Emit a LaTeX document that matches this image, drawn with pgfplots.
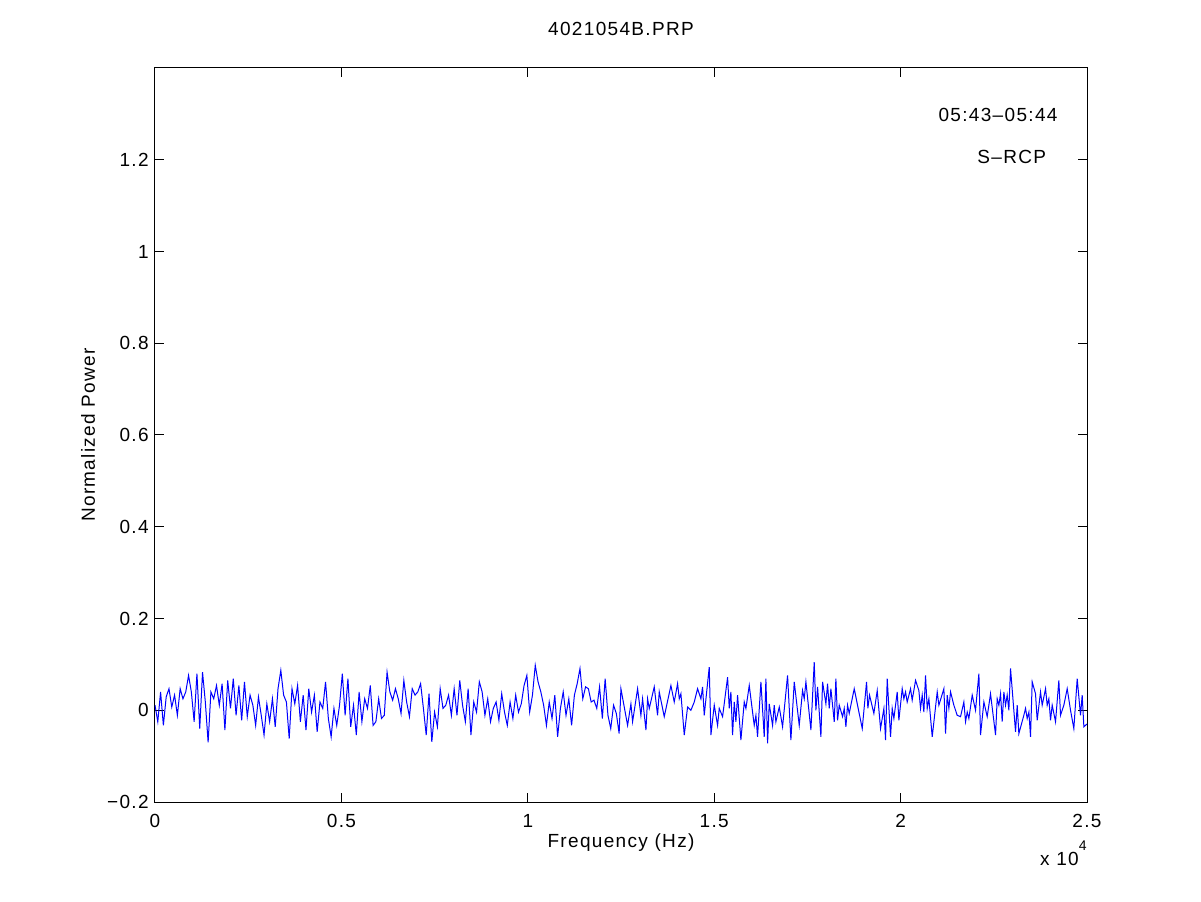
\documentclass[border=0pt]{standalone}
\usepackage{fontspec}
\setmainfont{Liberation Sans}[LetterSpace=7]
\usepackage{pgfplots}
\pgfplotsset{compat=1.18}
\usetikzlibrary{calc}
\newcommand{\mf}{\fontsize{9.5}{11}\selectfont}
\begin{document}
\mf
\begin{tikzpicture}
\begin{axis}[name=ax, scale only axis, width=466pt, height=367pt,
  xmin=0, xmax=25000, ymin=-0.2, ymax=1.4,
  scaled x ticks=false,
  xtick={0,5000,10000,15000,20000,25000},
  xticklabels={0,0.5,1,1.5,2,2.5},
  ytick={-0.2,0,0.2,0.4,0.6,0.8,1,1.2},
  yticklabels={−0.2,0,0.2,0.4,0.6,0.8,1,1.2},
  tick align=inside, tick pos=both, major tick length=4.5pt,
  axis line style={line width=0.5pt, black},
  every tick/.style={black, line width=0.5pt},
  tick label style={font=\mf},
  xticklabel style={anchor=base, inner sep=0pt, yshift=-12.5pt},
  yticklabel style={anchor=east, inner sep=0pt, xshift=-3pt},
  title={4021054B.PRP},
  title style={font=\mf, at={(axis description cs:0.5,1.02725)}, anchor=base, inner sep=0pt},
  xlabel={Frequency (Hz)},
  xlabel style={font=\mf, at={(axis description cs:0.5,-0.06267)}, anchor=base, inner sep=0pt},
  ylabel={Normalized Power},
  ylabel style={font=\mf, at={(axis description cs:-0.0644,0.5)}, anchor=base, inner sep=0pt, rotate=0},
  clip=true,
]
\addplot[blue, line width=0.5pt, mark=none] coordinates {
(0,.011)(75,-.025)(150,.040)(225,-.033)(300,.029)(375,.047)(450,.007)(525,.033)(600,-.011)(675,.047)
(750,.025)(825,.040)(900,.076)(975,.040)(1050,-.025)(1125,.080)(1200,-.040)(1275,.083)(1350,.018)(1425,-.070)
(1500,.040)(1575,.025)(1650,.054)(1725,.011)(1800,.058)(1875,-.043)(1950,.065)(2025,.004)(2100,.069)(2175,-.011)
(2250,.054)(2325,-.022)(2400,.062)(2475,-.014)(2550,.033)(2625,.011)(2700,-.033)(2775,.029)(2850,-.011)(2925,-.054)
(3000,.014)(3075,-.025)(3150,.025)(3225,-.036)(3300,.047)(3375,.087)(3450,.033)(3525,.018)(3600,-.062)(3675,.047)
(3750,.014)(3825,.054)(3900,-.025)(3975,.033)(4050,-.043)(4125,.047)(4200,-.004)(4275,.033)(4350,-.047)(4425,.018)
(4500,.004)(4575,.062)(4650,-.018)(4725,-.058)(4800,.004)(4875,-.033)(4950,.011)(5025,.080)(5100,-.011)(5175,.069)
(5250,-.036)(5325,.011)(5400,-.054)(5475,.040)(5550,-.025)(5625,.025)(5700,.004)(5775,.054)(5850,-.033)(5925,-.025)
(6000,.025)(6075,-.018)(6150,-.011)(6225,.083)
(6300,.040)(6375,.022)(6450,.047)(6525,.025)(6600,-.007)(6675,.065)(6750,.018)(6825,-.014)(6900,.047)(6975,.033)
(7050,.040)(7125,.058)(7200,.004)(7275,-.054)(7350,.036)(7425,-.069)(7500,-.004)(7575,-.036)(7650,.047)(7725,.004)
(7800,.011)(7875,.033)(7950,-.011)(8025,.047)(8100,-.011)(8175,.065)(8250,.011)(8325,-.025)(8400,.047)(8475,-.054)
(8550,.018)(8625,-.004)(8700,.062)(8775,.040)(8850,-.011)(8925,.025)(9000,-.025)(9075,.004)(9150,.018)(9225,-.022)
(9300,.036)(9375,-.004)(9450,-.033)(9525,.018)(9600,-.018)(9675,.033)(9750,-.004)(9825,.014)(9900,.054)(9975,.076)
(10050,-.004)(10125,.033)(10200,.098)(10275,.062)(10350,.040)(10425,.011)(10500,-.033)(10575,.018)(10650,-.018)(10725,.033)
(10800,-.058)(10875,.004)(10950,.040)(11025,-.011)(11100,.025)(11175,-.033)(11250,.033)(11325,.058)(11400,.091)(11475,.025)
(11550,.051)(11625,.047)(11700,.018)(11775,.022)(11850,.004)(11925,.051)(12000,-.018)(12075,.069)(12150,-.011)(12225,-.040)
(12300,.011)(12375,-.007)(12450,-.051)
(12498,.047)(12677,-.033)(12766,.014)(12811,-.025)(12945,.047)(13034,-.011)(13079,.025)(13169,-.043)(13213,.025)(13258,.004)
(13392,.051)(13481,-.011)(13526,.040)(13660,-.014)(13839,.054)(13928,.018)(14018,.058)(14063,.025)(14107,.036)(14197,-.054)
(14286,.007)(14375,0)(14465,.018)(14554,.047)(14644,.025)(14688,.051)(14733,-.011)(14867,.094)(14912,-.054)(15001,.011)
(15091,-.033)(15135,.004)(15225,-.014)(15359,.072)(15404,.004)(15448,.040)(15493,-.054)(15538,.018)(15582,-.025)(15627,.033)
(15716,-.065)(15806,.018)(15851,.004)(15940,.054)(16074,-.033)(16119,-.011)(16163,-.058)(16253,.062)(16342,-.058)(16387,.069)
(16432,-.072)(16476,.014)(16566,-.033)(16610,.011)(16655,-.025)(16745,.007)(16834,-.036)(16968,.076)(17057,-.065)(17147,.062)
(17281,-.033)(17370,.043)(17415,.025)(17460,.062)(17594,-.043)(17683,.105)(17728,0)(17773,.051)(17862,-.058)(17907,.062)
(17996,.014)(18041,.058)(18086,.004)(18130,.047)(18220,-.025)(18264,.069)(18309,-.022)(18354,.011)(18443,-.014)(18488,.004)
(18533,-.036)(18577,.011)(18622,-.007)(18756,.047)
(18971,-.040)(19087,.062)(19122,.004)(19167,.033)(19283,-.007)(19373,.043)(19462,-.040)(19552,.004)(19596,-.065)(19641,.069)
(19730,-.058)(19775,.004)(19820,-.018)(19909,.040)(19954,-.022)(20043,.047)(20088,.025)(20133,.040)(20177,.018)(20267,.047)
(20311,.022)(20401,.065)(20490,.043)(20535,.004)(20580,.033)(20624,-.004)(20669,.076)(20714,.004)(20759,.025)(20848,-.058)
(20982,.040)(21027,.011)(21161,.047)(21206,-.051)(21250,.033)(21295,.004)(21340,.040)(21429,.011)(21518,-.011)(21608,-.014)
(21697,.018)(21742,-.025)(21787,-.004)(21831,-.018)(21921,.033)(22010,0)(22100,.080)(22144,-.054)(22234,.018)(22323,-.014)
(22412,.036)(22547,-.054)(22591,.025)(22636,.011)(22681,.036)(22725,-.025)(22770,.040)(22815,.011)(22859,.033)(22904,0)
(22949,.091)(23083,-.047)(23128,.011)(23172,-.051)(23306,-.011)(23351,.004)(23396,-.018)(23441,-.004)(23485,-.058)(23530,.062)
(23619,.036)(23664,-.022)(23753,.040)(23798,.011)(23888,.047)(23932,.011)(23977,.025)(24022,-.022)(24066,.011)(24156,-.025)
(24245,.065)(24290,-.011)(24379,.011)(24469,.047)(24558,0)(24647,-.040)(24737,.069)(24826,-.011)(24871,.033)(24916,-.036)
(25000,-.030)
};
\node[font=\mf, anchor=base, inner sep=0pt] at (axis cs:22613,1.2826) {05:43\textendash 05:44};
\node[font=\mf, anchor=base, inner sep=0pt] at (axis cs:22980,1.192) {S\textendash RCP};
\end{axis}
\node[font=\mf, anchor=base east, inner sep=0pt] at ($(ax.south east)+(0,-31.5pt)$) {x 10\raisebox{7.5pt}{\fontsize{7}{8}\selectfont 4}};
\path[use as bounding box] ($(ax.south west)+(-77.5pt,-49.5pt)$) rectangle ($(ax.north east)+(57pt,34pt)$);
\end{tikzpicture}
\end{document}
